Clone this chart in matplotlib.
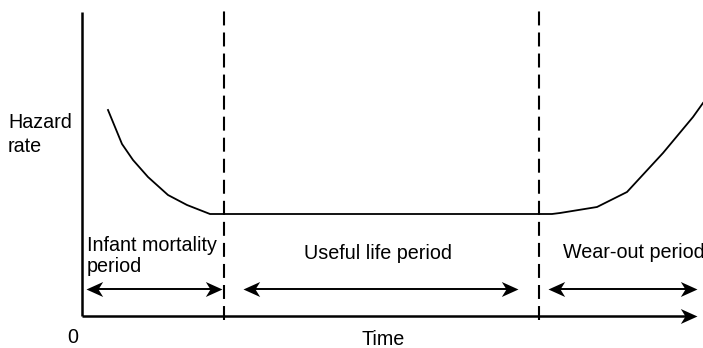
import matplotlib.pyplot as plt
from matplotlib.path import Path

plt.rcParams["font.family"] = ["Liberation Sans", "DejaVu Sans"]

# hazard curve (time, hazard rate) in arbitrary units
time = [26, 40, 51, 66, 86, 105, 128, 142, 300, 457, 470, 478, 515, 535, 545, 581, 611, 621]
hazard = [206, 172, 156, 139, 121, 111, 102, 102, 102, 102, 102, 103, 109, 119, 124, 163, 199, 213]

# period boundaries and labels
boundaries = [142, 457]
periods = ["Infant mortality", "Useful life period", "Wear-out period"]
period_spans = [(4, 140), (161, 436), (466, 615)]
arrow_y = 27
time_end = 615
hazard_top = 304

# stealth style arrow heads, tip at the origin
head_r = Path([(0, 0), (-1, 0.45), (-0.72, 0), (-1, -0.45), (0, 0)],
              [Path.MOVETO, Path.LINETO, Path.LINETO, Path.LINETO, Path.CLOSEPOLY])
head_l = Path([(0, 0), (1, 0.45), (0.72, 0), (1, -0.45), (0, 0)],
              [Path.MOVETO, Path.LINETO, Path.LINETO, Path.LINETO, Path.CLOSEPOLY])
ms = 24

fig = plt.figure(figsize=(7.03, 3.48), dpi=100)
ax = fig.add_axes([0, 0, 1, 1])
ax.set_xlim(-82, 621)
ax.set_ylim(-32, 316)
ax.axis("off")

# axes
ax.plot([0, 0], [0, hazard_top], color="black", lw=1.8, solid_capstyle="butt")
ax.plot([0, time_end - 5], [0, 0], color="black", lw=1.8, solid_capstyle="butt")
ax.plot([time_end], [0], marker=head_r, ms=ms, color="black", mew=0)

# curve
ax.plot(time, hazard, color="black", lw=1.3)

# dashed boundaries
for b in boundaries:
    ln, = ax.plot([b, b], [-4, hazard_top + 2], color="black", lw=1.5)
    ln.set_dashes((6.7, 3.4))

# period arrows
for x0, x1 in period_spans:
    ax.plot([x0 + 5, x1 - 5], [arrow_y, arrow_y], color="black", lw=1.4)
    ax.plot([x0], [arrow_y], marker=head_l, ms=ms, color="black", mew=0)
    ax.plot([x1], [arrow_y], marker=head_r, ms=ms, color="black", mew=0)

fs = 14.2
ax.text(-74, 188, "Hazard", fontsize=fs, va="baseline")
ax.text(-74, 164, "rate", fontsize=fs, va="baseline")
ax.text(5, 65, periods[0], fontsize=fs, va="baseline")
ax.text(5, 44, "period", fontsize=fs, va="baseline")
ax.text(296, 57, periods[1], fontsize=fs, va="baseline", ha="center")
ax.text(481, 58, periods[2], fontsize=fs, va="baseline")
ax.text(-9, -27, "0", fontsize=fs, va="baseline", ha="center")
ax.text(301, -29, "Time", fontsize=fs, va="baseline", ha="center")

fig.savefig("out.png", dpi=100)
